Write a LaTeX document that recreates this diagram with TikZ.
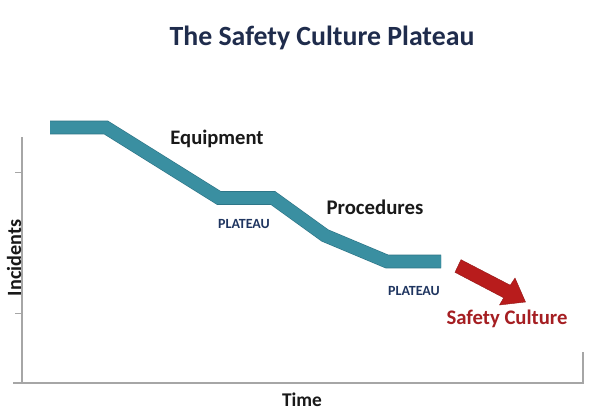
\documentclass[tikz,border=0pt]{standalone}
\usepackage{fontspec}
\setmainfont{Carlito}
\definecolor{axisgray}{HTML}{A6A6A6}
\definecolor{bandteal}{HTML}{3A8FA1}
\definecolor{tealdark}{HTML}{2C7385}
\definecolor{navy}{HTML}{1F2C4C}
\definecolor{smallnavy}{HTML}{1F3560}
\definecolor{arrowred}{HTML}{B81C1C}
\definecolor{textred}{HTML}{A51E22}
\begin{document}
\begin{tikzpicture}[x=1pt,y=-1pt,
  axis/.style={draw=axisgray,line width=1.3pt},
  bandout/.style={draw=tealdark,line width=13.6pt,line join=miter,line cap=butt},
  bandin/.style={draw=bandteal,line width=12.4pt,line join=miter,line cap=butt},
  lbl/.style={inner sep=0pt,text=black!90},
  plat/.style={inner sep=0pt,text=smallnavy,font=\bfseries\fontsize{14}{16}\selectfont}]
\useasboundingbox[fill=white] (0,0) rectangle (600,418);
% title
\node[inner sep=0pt,text=navy,font=\bfseries\fontsize{27.8}{32}\selectfont] (title) at (322,38) {The Safety Culture Plateau};
% axes
\coordinate (ytop) at (22,137);
\coordinate (origin) at (22,383);
\coordinate (xleft) at (13,383);
\coordinate (xright) at (583,383);
\coordinate (rtick) at (583,352);
\draw[axis] (ytop) -- (origin);
\draw[axis] (xleft) -- (xright) -- (rtick);
\coordinate (t1a) at (15,172); \coordinate (t1b) at (22,172);
\coordinate (t2a) at (15,313); \coordinate (t2b) at (22,313);
\draw[axis,line width=0.9pt] (t1a) -- (t1b);
\draw[axis,line width=0.9pt] (t2a) -- (t2b);
% band
\coordinate (b0) at (50,127.5);
\coordinate (b1) at (106,127.5);
\coordinate (b2) at (219,198);
\coordinate (b3) at (273,198);
\coordinate (b4) at (325,235.5);
\coordinate (b5) at (387,261.5);
\coordinate (b6) at (441,261.5);
\draw[bandout] (b0) -- (b1) -- (b2) -- (b3) -- (b4) -- (b5) -- (b6);
\draw[bandin] (b0) -- (b1) -- (b2) -- (b3) -- (b4) -- (b5) -- (b6);
% red arrow
\path[fill=arrowred,draw=arrowred!80!black,line width=0.4pt,line join=miter]
  (461,259.7) -- (510.2,285.2) -- (515,278) -- (525.5,302) -- (499.5,305) -- (503.7,297.8) -- (455,272.3) -- cycle;
% labels
\node[lbl,font=\bfseries\fontsize{20.6}{24}\selectfont] (equip) at (217,139) {Equipment};
\node[lbl,font=\bfseries\fontsize{20.8}{24}\selectfont] (proc) at (375,207) {Procedures};
\node[plat] (plat1) at (244,224) {PLATEAU};
\node[plat] (plat2) at (414,291) {PLATEAU};
\node[inner sep=0pt,text=textred,font=\bfseries\fontsize{20.7}{24}\selectfont] (safety) at (507,319) {Safety Culture};
\node[lbl,font=\bfseries\fontsize{19.4}{22}\selectfont] (time) at (302,400) {Time};
\node[lbl,rotate=90,font=\bfseries\fontsize{20.2}{22}\selectfont] (inc) at (14,258) {Incidents};
\end{tikzpicture}
\end{document}
